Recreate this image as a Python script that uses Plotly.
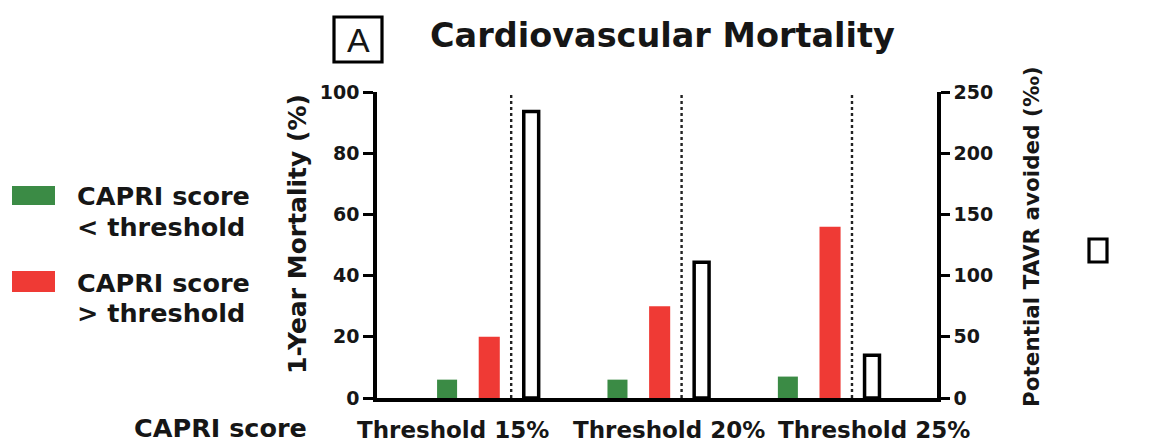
import plotly.graph_objects as go

thresholds = ["Threshold 15%", "Threshold 20%", "Threshold 25%"]
mort_below = [6, 6, 7]        # CAPRI score < threshold (%)
mort_above = [20, 30, 56]     # CAPRI score > threshold (%)
tavr_avoided = [234, 111, 35] # Potential TAVR avoided (per mille)
y_ticks = [0, 20, 40, 60, 80, 100]
y2_ticks = [0, 50, 100, 150, 200, 250]

GREEN = "#3b8b45"
RED = "#ef3a35"
INK = "#161616"
FONT = "DejaVu Sans"

# page geometry (px) of plot area
L, R, T, B = 377, 937, 92, 398
W, H = R - L, B - T
OFF = 8  # default body margin of the html page


def px(x):
    return (x - L) / W


def py(y):
    return (B - y) / H


n = len(thresholds)
grp = [8 * i for i in range(n)]
x_green = [g + 3.29 for g in grp]
x_red = [g + 5.27 for g in grp]
x_open = [g + 7.24 for g in grp]
x_dot = [g + 6.3 for g in grp]
x_lab = [3.57, 13.71, 23.33]
x_range = [0, W / 21.3]

fig = go.Figure()
fig.add_bar(x=x_green, y=mort_below, width=0.94, marker=dict(color=GREEN, line=dict(width=0)),
            name="CAPRI score < threshold", yaxis="y")
fig.add_bar(x=x_red, y=mort_above, width=0.99, marker=dict(color=RED, line=dict(width=0)),
            name="CAPRI score > threshold", yaxis="y")
fig.add_bar(x=x_open, y=tavr_avoided, width=0.7,
            marker=dict(color="white", line=dict(color="black", width=3.5)),
            name="Potential TAVR avoided", yaxis="y2")

shapes = []
for xd in x_dot:
    shapes.append(dict(type="line", xref="x", yref="paper", x0=xd, x1=xd, y0=0, y1=1,
                       line=dict(color="#222", width=2.4, dash="dot")))
# legend swatches
shapes.append(dict(type="rect", xref="paper", yref="paper", x0=px(12), x1=px(55), y0=py(205), y1=py(186),
                   fillcolor=GREEN, line=dict(width=0)))
shapes.append(dict(type="rect", xref="paper", yref="paper", x0=px(12), x1=px(55), y0=py(292), y1=py(271),
                   fillcolor=RED, line=dict(width=0)))
shapes.append(dict(type="rect", xref="paper", yref="paper", x0=px(1089), x1=px(1107), y0=py(262), y1=py(239),
                   fillcolor="white", line=dict(color="black", width=3.2)))
# "A" box
shapes.append(dict(type="rect", xref="paper", yref="paper", x0=px(334), x1=px(382), y0=py(62), y1=py(17),
                   fillcolor="rgba(0,0,0,0)", line=dict(color="black", width=3.2)))


def note(text, x, y, size, xanchor="center", angle=0, family=FONT, bold=True):
    return dict(text=text, xref="paper", yref="paper", x=px(x), y=py(y), xanchor=xanchor,
                yanchor="middle", showarrow=False, textangle=angle,
                font=dict(family=family, size=size, color=INK, weight="bold" if bold else "normal"))


ann = [
    note("Cardiovascular Mortality", 662, 35, 33.5),
    note("A", 358, 40, 34, family="Liberation Sans", bold=False),
    note("CAPRI score", 75, 196, 25.5, xanchor="left"),
    note("&lt; threshold", 75, 227, 25.5, xanchor="left"),
    note("CAPRI score", 75, 283, 25.5, xanchor="left"),
    note("&gt; threshold", 75, 313, 25.5, xanchor="left"),
    note("CAPRI score", 220, 428, 25.5),
    note("1-Year Mortality (%)", 297, 234, 25, angle=-90),
    note("Potential TAVR avoided (‰)", 1031, 237, 21.5, angle=-90),
]
for xl, lab in zip(x_lab, thresholds):
    ann.append(dict(text=lab, xref="x", yref="paper", x=xl, y=py(430), xanchor="center",
                    yanchor="middle", showarrow=False,
                    font=dict(family=FONT, size=23, color=INK, weight="bold")))

fig.update_layout(
    width=1153 - OFF, height=446 - OFF,
    margin=dict(l=L - OFF, r=1153 - R, t=T - OFF, b=446 - B, autoexpand=False),
    paper_bgcolor="white", plot_bgcolor="white",
    showlegend=False, barmode="overlay",
    shapes=shapes, annotations=ann,
    xaxis=dict(range=x_range, showgrid=False, zeroline=False, showticklabels=False,
               showline=True, linecolor="black", linewidth=3.5, ticks=""),
    yaxis=dict(range=[0, 100], tickvals=y_ticks, showgrid=False, zeroline=False,
               showline=True, linecolor="black", linewidth=3.5, ticks="outside", ticklen=10,
               tickwidth=3, tickcolor="black",
               tickfont=dict(family=FONT, size=19, color=INK, weight="bold")),
    yaxis2=dict(range=[0, 250], tickvals=y2_ticks, overlaying="y", side="right",
                showgrid=False, zeroline=False,
                showline=True, linecolor="black", linewidth=3.5, ticks="outside", ticklen=9,
                tickwidth=3, tickcolor="black",
                tickfont=dict(family=FONT, size=19, color=INK, weight="bold")),
)

fig.write_html("out.html")
